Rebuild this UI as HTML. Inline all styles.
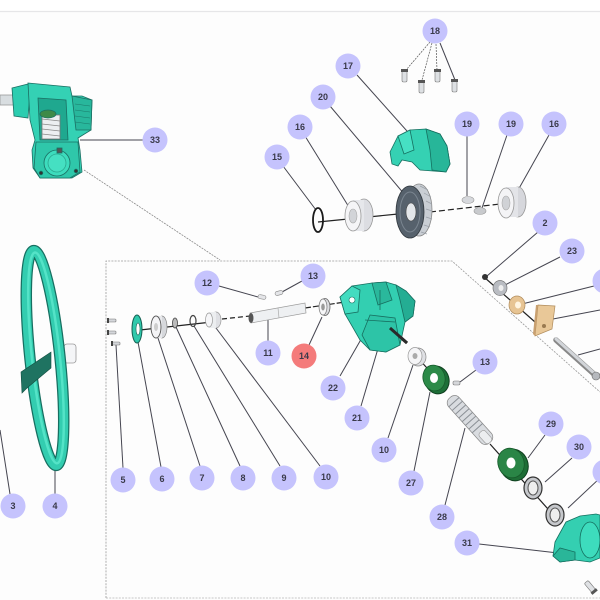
<!DOCTYPE html>
<html><head><meta charset="utf-8"><style>
html,body{margin:0;padding:0;background:#fff;}
svg{display:block;}
text{font-family:"Liberation Sans",sans-serif;font-size:9px;font-weight:bold;fill:#3a3a4a;text-anchor:middle;}
</style></head><body>
<svg width="600" height="600" viewBox="0 0 600 600" xmlns="http://www.w3.org/2000/svg">
<rect x="0" y="0" width="600" height="600" fill="#fdfdfd"/>
<rect x="0" y="0" width="600" height="11" fill="#ffffff"/>
<line x1="0" y1="11.5" x2="600" y2="11.5" stroke="#e6e6e8" stroke-width="1.2"/>

<!-- dashed detail box -->
<path d="M106,598 L106,261 L452,261 L600,392" fill="none" stroke="#9a9a9a" stroke-width="0.8" stroke-dasharray="2,1.2"/>
<line x1="106" y1="598" x2="600" y2="598" stroke="#b5b5b5" stroke-width="0.8" stroke-dasharray="2,1.2"/>
<line x1="84" y1="170" x2="220" y2="260" stroke="#8a8a8a" stroke-width="0.8" stroke-dasharray="2,1"/>

<!-- leader lines -->
<g stroke="#454550" stroke-width="1" fill="none">
<line x1="80" y1="140" x2="143" y2="140"/>
<line x1="357" y1="75" x2="415" y2="140"/>
<line x1="330" y1="106" x2="405" y2="195"/>
<line x1="305" y1="136" x2="352" y2="212"/>
<line x1="283" y1="166" x2="316" y2="210"/>
<line x1="467" y1="136" x2="467" y2="196"/>
<line x1="507" y1="135" x2="482" y2="208"/>
<line x1="549" y1="135" x2="517" y2="192"/>
<line x1="538" y1="232" x2="487" y2="276"/>
<line x1="560" y1="257" x2="505" y2="285"/>
<line x1="594" y1="286" x2="522" y2="304"/>
<line x1="553" y1="319" x2="600" y2="310"/>
<line x1="578" y1="355" x2="600" y2="349"/>
<line x1="219" y1="286" x2="258" y2="297"/>
<line x1="302" y1="281" x2="282" y2="292"/>
<line x1="268" y1="341" x2="268" y2="319"/>
<line x1="309" y1="345" x2="322" y2="317"/>
<line x1="340" y1="376" x2="375" y2="315"/>
<line x1="361" y1="406" x2="382" y2="335"/>
<line x1="123" y1="468" x2="116" y2="345"/>
<line x1="161" y1="467" x2="138" y2="342"/>
<line x1="200" y1="466" x2="158" y2="338"/>
<line x1="240" y1="466" x2="176" y2="327"/>
<line x1="280" y1="466" x2="194" y2="326"/>
<line x1="320" y1="466" x2="216" y2="328"/>
<line x1="388" y1="438" x2="413" y2="365"/>
<line x1="414" y1="471" x2="430" y2="392"/>
<line x1="476" y1="370" x2="460" y2="382"/>
<line x1="445" y1="505" x2="465" y2="428"/>
<line x1="545" y1="435" x2="528" y2="458"/>
<line x1="572" y1="458" x2="545" y2="482"/>
<line x1="600" y1="478" x2="568" y2="508"/>
<line x1="479" y1="544" x2="558" y2="553"/>
<line x1="55" y1="494" x2="55" y2="465"/>
<line x1="10" y1="494" x2="0" y2="430"/>
</g>
<g stroke="#555" stroke-width="0.7" stroke-dasharray="2,1" fill="none">
<line x1="430" y1="42" x2="406" y2="70"/>
<line x1="432" y1="43" x2="422" y2="80"/>
<line x1="436" y1="44" x2="437" y2="70"/>
</g>
<line x1="440" y1="43" x2="455" y2="80" stroke="#454550" stroke-width="1"/>

<!-- axes -->
<line x1="318" y1="222" x2="398" y2="214" stroke="#222" stroke-width="1.2"/>
<line x1="430" y1="212" x2="500" y2="204" stroke="#222" stroke-width="1.2" stroke-dasharray="6,3"/>
<line x1="484" y1="277" x2="535" y2="322" stroke="#222" stroke-width="1.2"/>
<line x1="140" y1="330" x2="212" y2="322" stroke="#222" stroke-width="1.2"/>
<line x1="222" y1="319" x2="250" y2="316" stroke="#222" stroke-width="1.2" stroke-dasharray="5,3"/>
<line x1="305" y1="308" x2="345" y2="302" stroke="#222" stroke-width="1.2" stroke-dasharray="6,2"/>
<line x1="390" y1="328" x2="407" y2="343" stroke="#333" stroke-width="3"/>
<line x1="417" y1="357" x2="436" y2="378" stroke="#222" stroke-width="1.2"/>
<line x1="490" y1="444" x2="556" y2="518" stroke="#222" stroke-width="1.2"/>

<!-- gearbox 33 -->
<g stroke="#1b6f63" stroke-width="0.8">
<rect x="0" y="95" width="14" height="10" fill="#d8dde0" stroke="#999"/>
<polygon points="12,88 28,84 30,92 28,118 14,116" fill="#2ccdb0"/>
<polygon points="28,83 70,87 72,96 82,96 92,100 91,130 78,138 80,150 82,172 72,178 40,178 33,168 32,150 35,140 30,120" fill="#34d1b4"/>
<polygon points="72,96 92,100 91,130 76,130" fill="#28b79c"/>
<g stroke="#1b7a6b" stroke-width="0.6"><line x1="75" y1="104" x2="90" y2="106"/><line x1="75" y1="110" x2="90" y2="112"/><line x1="75" y1="116" x2="90" y2="118"/><line x1="75" y1="122" x2="90" y2="124"/></g>
<polygon points="38,98 66,100 68,140 40,140" fill="#1fa88f"/>
<rect x="42" y="115" width="18" height="24" fill="#eceff1" stroke="#777"/>
<g stroke="#888" stroke-width="0.8"><line x1="42" y1="119" x2="60" y2="121"/><line x1="42" y1="124" x2="60" y2="126"/><line x1="42" y1="129" x2="60" y2="131"/><line x1="42" y1="134" x2="60" y2="136"/></g>
<ellipse cx="48" cy="114" rx="8" ry="4" fill="#3e8a48"/>
<polygon points="36,142 78,142 80,172 70,178 40,178 34,168" fill="#2fc7aa"/>
<circle cx="57" cy="163" r="13" fill="#3ddcbd"/>
<circle cx="57" cy="163" r="9" fill="#45e0c2" stroke="#2aa88f"/>
<rect x="57" y="148" width="5" height="5" fill="#555"/>
<circle cx="41" cy="173" r="1.8" fill="#333"/><circle cx="76" cy="171" r="1.8" fill="#333"/>
</g>

<!-- steering wheel -->
<rect x="64" y="344" width="12" height="19" rx="3" fill="#f4f5f7" stroke="#999" stroke-width="0.8"/>
<g transform="rotate(-6 45 358)">
<ellipse cx="45" cy="358" rx="15" ry="108" fill="none" stroke="#176f61" stroke-width="11.5"/>
<ellipse cx="45" cy="358" rx="15" ry="108" fill="none" stroke="#33cdb0" stroke-width="9"/>
<ellipse cx="46" cy="358" rx="14" ry="106" fill="none" stroke="#54e3c7" stroke-width="2.5"/>
</g>
<polygon points="21,372 51,352 51,368 27,388 22,393" fill="#1f7361" stroke="#114d40" stroke-width="0.6"/>

<!-- top group -->
<g stroke="#777" stroke-width="0.6">
<rect x="402" y="70" width="5" height="12" rx="1.5" fill="#dde0e3"/>
<rect x="419" y="81" width="5" height="12" rx="1.5" fill="#dde0e3"/>
<rect x="435" y="70" width="5" height="12" rx="1.5" fill="#dde0e3"/>
<rect x="452" y="80" width="5" height="12" rx="1.5" fill="#dde0e3"/>
</g>
<g fill="#555"><rect x="401" y="69" width="7" height="3"/><rect x="418" y="80" width="7" height="3"/><rect x="434" y="69" width="7" height="3"/><rect x="451" y="79" width="7" height="3"/></g>
<!-- cover 17 -->
<g stroke="#157060" stroke-width="0.8">
<path d="M390,152 L398,136 L410,130 L426,129 L440,134 L447,146 L450,164 L446,172 L420,170 L412,162 L402,160 L398,166 L392,164 Z" fill="#35d1b3"/>
<path d="M426,129 L440,134 L447,146 L450,164 L446,172 L432,170 L430,150 Z" fill="#27b699"/>
<path d="M398,136 L410,130 L414,150 L404,154 Z" fill="#46e0c3"/>
</g>
<!-- O-ring 15 -->
<ellipse cx="318" cy="220" rx="5" ry="12" fill="none" stroke="#1a1a1a" stroke-width="1.8"/>
<!-- bearing 16 left -->
<ellipse cx="364" cy="215" rx="9" ry="16" fill="#dcdde2" stroke="#999" stroke-width="0.8"/>
<rect x="353" y="200" width="11" height="31" fill="#e6e7eb"/>
<ellipse cx="353" cy="216" rx="8" ry="15" fill="#f5f5f7" stroke="#999" stroke-width="0.8"/>
<ellipse cx="353" cy="216" rx="4" ry="7" fill="#d2d4d8" stroke="#aaa" stroke-width="0.6"/>
<!-- gear 20 -->
<ellipse cx="419" cy="210" rx="13" ry="26" fill="#c9ced4" stroke="#888" stroke-width="0.8"/>
<g stroke="#9aa0a7" stroke-width="0.7"><line x1="420" y1="186" x2="428" y2="190"/><line x1="424" y1="193" x2="431" y2="197"/><line x1="426" y1="201" x2="432" y2="204"/><line x1="426" y1="209" x2="432" y2="211"/><line x1="426" y1="217" x2="432" y2="219"/><line x1="424" y1="225" x2="430" y2="227"/><line x1="421" y1="232" x2="427" y2="234"/></g>
<ellipse cx="410" cy="212" rx="14" ry="26" fill="#56616c" stroke="#2e353b" stroke-width="0.8"/>
<ellipse cx="410" cy="212" rx="10" ry="20" fill="none" stroke="#7a8590" stroke-width="1"/>
<ellipse cx="411" cy="212" rx="5" ry="9" fill="#e3e6e9" stroke="#444" stroke-width="0.6"/>
<!-- keys 19 -->
<ellipse cx="468" cy="200" rx="6" ry="3.5" fill="#d6d8dc" stroke="#999" stroke-width="0.6"/>
<ellipse cx="480" cy="211" rx="6" ry="3.5" fill="#c8cacd" stroke="#999" stroke-width="0.6"/>
<!-- bearing 16 right -->
<ellipse cx="518" cy="202" rx="8" ry="15" fill="#d6d7dc" stroke="#999" stroke-width="0.8"/>
<rect x="506" y="187" width="12" height="30" fill="#e3e4e8"/>
<ellipse cx="506" cy="203" rx="8" ry="15" fill="#f4f4f6" stroke="#999" stroke-width="0.8"/>
<ellipse cx="506" cy="203" rx="4" ry="7" fill="#d0d2d6" stroke="#aaa" stroke-width="0.6"/>

<!-- right group -->
<circle cx="485" cy="277" r="3" fill="#333"/>
<ellipse cx="500" cy="288" rx="7" ry="7.5" fill="#b9bcc2" stroke="#777" stroke-width="0.7"/>
<ellipse cx="501" cy="288" rx="2.5" ry="3" fill="#eee"/>
<ellipse cx="517" cy="305" rx="8" ry="9" fill="#e7c493" stroke="#b08c5c" stroke-width="0.7"/>
<ellipse cx="518" cy="305" rx="3" ry="3.5" fill="#fff4e0"/>
<polygon points="538,305 555,306 552,329 535,336" fill="#e9c898" stroke="#b08c5c" stroke-width="0.7"/>
<polygon points="535,336 538,305 536,305 533,334" fill="#c9a070"/>
<circle cx="544" cy="326" r="2" fill="#9a7a50"/>
<line x1="556" y1="340" x2="595" y2="375" stroke="#888" stroke-width="5.5" stroke-linecap="round"/>
<line x1="556" y1="339" x2="595" y2="374" stroke="#d2d5d9" stroke-width="3" stroke-linecap="round"/>
<circle cx="596" cy="376" r="4" fill="#b5b8bd" stroke="#666" stroke-width="0.6"/>

<!-- left box parts -->
<g stroke="#777" stroke-width="0.6" fill="#d4d6da">
<rect x="108" y="319" width="8" height="3" rx="1"/>
<rect x="108" y="331" width="8" height="3" rx="1"/>
<rect x="112" y="342" width="8" height="3" rx="1"/>
</g>
<g fill="#444"><rect x="107" y="318" width="2" height="5"/><rect x="107" y="330" width="2" height="5"/><rect x="111" y="341" width="2" height="5"/></g>
<ellipse cx="137" cy="329" rx="5" ry="14" fill="#2fc9ac" stroke="#145f52" stroke-width="1"/>
<ellipse cx="138" cy="329" rx="2" ry="6" fill="#fff" stroke="#145f52" stroke-width="0.6"/>
<ellipse cx="162" cy="327" rx="5" ry="11" fill="#d6d8dc" stroke="#888" stroke-width="0.7"/>
<rect x="156" y="316" width="6" height="22" fill="#e8e9ec"/>
<ellipse cx="156" cy="327" rx="5" ry="11" fill="#f4f4f6" stroke="#555" stroke-width="0.9"/>
<ellipse cx="156" cy="327" rx="2" ry="4" fill="#ccc"/>
<ellipse cx="175" cy="323" rx="2.5" ry="5" fill="#bbb" stroke="#444" stroke-width="0.8"/>
<ellipse cx="193" cy="321" rx="3" ry="5.5" fill="none" stroke="#444" stroke-width="1.2"/>
<ellipse cx="216" cy="320" rx="5" ry="8" fill="#dfe0e4" stroke="#999" stroke-width="0.7"/>
<rect x="209" y="312" width="7" height="16" fill="#eceef0"/>
<ellipse cx="209" cy="320" rx="3.5" ry="7" fill="#f6f6f8" stroke="#999" stroke-width="0.7"/>
<!-- shaft 11 -->
<polygon points="250,313 305,303 306,313 251,323" fill="#eef0f2" stroke="#999" stroke-width="0.7"/>
<line x1="278" y1="308" x2="279" y2="318" stroke="#aaa" stroke-width="0.7"/>
<ellipse cx="251" cy="318" rx="2.5" ry="5" fill="#555"/>
<!-- ring 14 -->
<ellipse cx="325" cy="307" rx="5" ry="8.5" fill="#dcdde1" stroke="#666" stroke-width="0.8"/>
<ellipse cx="323" cy="307" rx="4" ry="8" fill="#f6f6f8" stroke="#777" stroke-width="0.7"/>
<ellipse cx="323" cy="307" rx="1.8" ry="3.5" fill="#999"/>
<!-- pins 12/13 -->
<rect x="258" y="295" width="8" height="4" rx="2" fill="#e4e5e8" stroke="#888" stroke-width="0.6" transform="rotate(10 262 297)"/>
<rect x="275" y="291" width="8" height="4" rx="2" fill="#e4e5e8" stroke="#888" stroke-width="0.6" transform="rotate(-15 279 293)"/>

<!-- gearbox 21/22 -->
<g stroke="#176f60" stroke-width="0.8">
<path d="M340,297 L352,286 L372,283 L386,282 L396,285 L406,291 L415,301 L413,316 L405,322 L400,345 L386,352 L370,350 L360,340 L352,326 L345,314 Z" fill="#33cfb1"/>
<path d="M340,297 L352,286 L360,290 L358,312 L345,314 Z" fill="#43dcc0"/>
<path d="M372,283 L386,282 L392,300 L378,305 Z" fill="#2ab89c"/>
<path d="M396,285 L406,291 L415,301 L413,316 L405,322 L400,300 Z" fill="#24ad93"/>
<path d="M370,315 L395,318 L400,345 L386,352 L370,350 L362,335 Z" fill="#2dc4a7"/>
<line x1="380" y1="290" x2="380" y2="310"/><line x1="365" y1="320" x2="395" y2="322"/>
</g>
<circle cx="352" cy="300" r="3" fill="#fff" stroke="#177060" stroke-width="0.6"/>
<line x1="390" y1="328" x2="407" y2="343" stroke="#2a2a2a" stroke-width="3"/>

<!-- right chain -->
<ellipse cx="418" cy="357" rx="8" ry="9" fill="#dfe0e4" stroke="#888" stroke-width="0.7"/>
<ellipse cx="415" cy="356" rx="7" ry="8.5" fill="#f5f5f7" stroke="#999" stroke-width="0.7"/>
<ellipse cx="415" cy="356" rx="2.5" ry="3" fill="#aaa"/>
<ellipse cx="437" cy="380" rx="12" ry="14" fill="#1d6f38" stroke="#0f3f1f" stroke-width="1" transform="rotate(-15 437 380)"/>
<ellipse cx="434" cy="378" rx="11" ry="13" fill="#2c8a48" stroke="#175a2b" stroke-width="0.8" transform="rotate(-15 434 378)"/>
<ellipse cx="434" cy="378" rx="4" ry="5" fill="#fff"/>
<rect x="453" y="381" width="7" height="4" rx="1.5" fill="#d5d7da" stroke="#777" stroke-width="0.6"/>
<!-- worm 28 -->
<g transform="rotate(48 470 420)">
<rect x="440" y="413" width="60" height="14" rx="6" fill="#d9dce0" stroke="#888" stroke-width="0.7"/>
<g stroke="#8a8f95" stroke-width="1"><line x1="446" y1="413" x2="446" y2="427"/><line x1="451" y1="413" x2="451" y2="427"/><line x1="456" y1="413" x2="456" y2="427"/><line x1="461" y1="413" x2="461" y2="427"/><line x1="466" y1="413" x2="466" y2="427"/><line x1="471" y1="413" x2="471" y2="427"/><line x1="476" y1="413" x2="476" y2="427"/><line x1="481" y1="413" x2="481" y2="427"/></g>
<rect x="486" y="416" width="14" height="8" rx="3" fill="#eceef0" stroke="#999" stroke-width="0.6"/>
</g>
<!-- gear 29 -->
<ellipse cx="514" cy="465" rx="14" ry="16" fill="#1e6e36" stroke="#0f3f1f" stroke-width="1" transform="rotate(-20 514 465)"/>
<ellipse cx="511" cy="463" rx="13" ry="15" fill="#2a8546" stroke="#175a2b" stroke-width="0.8" transform="rotate(-20 511 463)"/>
<ellipse cx="511" cy="463" rx="4.5" ry="5.5" fill="#fff"/>
<!-- bearings 30, 32 -->
<ellipse cx="533" cy="488" rx="9" ry="11" fill="#c6c8cc" stroke="#333" stroke-width="1.2"/>
<ellipse cx="533" cy="488" rx="5" ry="7" fill="#eee" stroke="#555" stroke-width="1"/>
<ellipse cx="555" cy="515" rx="9" ry="11" fill="#c6c8cc" stroke="#333" stroke-width="1.2"/>
<ellipse cx="555" cy="515" rx="5" ry="7" fill="#eee" stroke="#555" stroke-width="1"/>
<!-- cover 31 -->
<g stroke="#157060" stroke-width="0.8">
<path d="M555,542 L566,522 L580,516 L596,514 L600,515 L600,558 L590,562 L575,560 L560,562 L553,556 Z" fill="#34cfb1"/>
<ellipse cx="590" cy="540" rx="10" ry="18" fill="#3ddcbd"/>
<path d="M553,556 L560,548 L575,552 L575,560 L560,562 Z" fill="#2ab699"/>
</g>
<!-- screw -->
<g transform="rotate(-40 591 587)"><rect x="588" y="580" width="5" height="12" rx="1.5" fill="#dfe1e4" stroke="#777" stroke-width="0.6"/><rect x="587" y="591" width="7" height="3" fill="#555"/></g>

<!-- badges -->
<g fill="#c5c3fd">
<circle cx="435" cy="31" r="12.5"/><circle cx="348" cy="66" r="12.5"/><circle cx="323" cy="97" r="12.5"/>
<circle cx="300" cy="127" r="12.5"/><circle cx="277" cy="157" r="12.5"/><circle cx="467" cy="124" r="12.5"/>
<circle cx="511" cy="124" r="12.5"/><circle cx="554" cy="124" r="12.5"/><circle cx="155" cy="140" r="12.5"/>
<circle cx="545" cy="223" r="12.5"/><circle cx="572" cy="251" r="12.5"/><circle cx="605" cy="281" r="12.5"/>
<circle cx="207" cy="283" r="12.5"/><circle cx="313" cy="276" r="12.5"/><circle cx="268" cy="353" r="12.5"/>
<circle cx="333" cy="388" r="12.5"/><circle cx="357" cy="418" r="12.5"/><circle cx="485" cy="362" r="12.5"/>
<circle cx="384" cy="450" r="12.5"/><circle cx="411" cy="483" r="12.5"/><circle cx="442" cy="517" r="12.5"/>
<circle cx="551" cy="424" r="12.5"/><circle cx="579" cy="447" r="12.5"/><circle cx="605" cy="472" r="12.5"/>
<circle cx="467" cy="543" r="12.5"/>
<circle cx="13" cy="506" r="12.5"/><circle cx="55" cy="506" r="12.5"/>
<circle cx="123" cy="480" r="12.5"/><circle cx="162" cy="479" r="12.5"/><circle cx="202" cy="478" r="12.5"/>
<circle cx="243" cy="478" r="12.5"/><circle cx="284" cy="478" r="12.5"/><circle cx="326" cy="477" r="12.5"/>
</g>
<circle cx="304" cy="356" r="12.5" fill="#f47b7b"/>
<g>
<text x="435" y="34">18</text><text x="348" y="69">17</text><text x="323" y="100">20</text>
<text x="300" y="130">16</text><text x="277" y="160">15</text><text x="467" y="127">19</text>
<text x="511" y="127">19</text><text x="554" y="127">16</text><text x="155" y="143">33</text>
<text x="545" y="226">2</text><text x="572" y="254">23</text><text x="605" y="284">24</text>
<text x="207" y="286">12</text><text x="313" y="279">13</text><text x="268" y="356">11</text>
<text x="304" y="359">14</text>
<text x="333" y="391">22</text><text x="357" y="421">21</text><text x="485" y="365">13</text>
<text x="384" y="453">10</text><text x="411" y="486">27</text><text x="442" y="520">28</text>
<text x="551" y="427">29</text><text x="579" y="450">30</text><text x="605" y="475">32</text>
<text x="467" y="546">31</text>
<text x="13" y="509">3</text><text x="55" y="509">4</text>
<text x="123" y="483">5</text><text x="162" y="482">6</text><text x="202" y="481">7</text>
<text x="243" y="481">8</text><text x="284" y="481">9</text><text x="326" y="480">10</text>
</g>
</svg>
</body></html>
